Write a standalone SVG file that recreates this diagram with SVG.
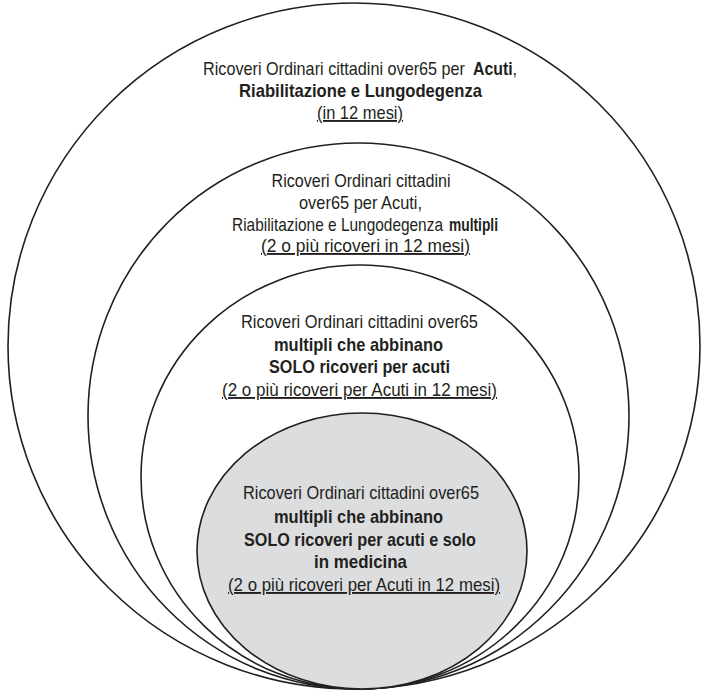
<svg xmlns="http://www.w3.org/2000/svg" width="702" height="691" viewBox="0 0 702 691">
<style>
.ring{fill:#ffffff;stroke:#231f20;stroke-width:1.6}
.core{fill:#dcdddf;stroke:#231f20;stroke-width:1.6}
text{font-family:"Liberation Sans",Arial,sans-serif;font-size:19px;fill:#231f20;text-anchor:middle}
text.s{text-anchor:start}
.b{font-weight:bold}
.u{text-decoration:underline}
</style>
<rect width="702" height="691" fill="#ffffff"/>
<g id="n1">
<ellipse class="ring" cx="354" cy="346" rx="346" ry="343"/>
<text class="s" x="203" y="75" textLength="262" lengthAdjust="spacingAndGlyphs">Ricoveri Ordinari cittadini over65 per</text>
<text class="s" x="473" y="75" textLength="44" lengthAdjust="spacingAndGlyphs"><tspan class="b">Acuti</tspan>,</text>
<text class="b" x="360.5" y="97" textLength="243" lengthAdjust="spacingAndGlyphs">Riabilitazione e Lungodegenza</text>
<text class="u" x="360" y="119" textLength="86" lengthAdjust="spacingAndGlyphs">(in 12 mesi)</text>
</g>
<g id="n2">
<ellipse class="ring" cx="358.5" cy="416" rx="270.5" ry="273"/>
<text x="361" y="187" textLength="179" lengthAdjust="spacingAndGlyphs">Ricoveri Ordinari cittadini</text>
<text x="360.5" y="209" textLength="123" lengthAdjust="spacingAndGlyphs">over65 per Acuti,</text>
<text class="s" x="232" y="231" textLength="211" lengthAdjust="spacingAndGlyphs">Riabilitazione e Lungodegenza</text>
<text class="s b" x="449" y="231" textLength="49" lengthAdjust="spacingAndGlyphs">multipli</text>
<text class="u" x="365.5" y="252" textLength="209" lengthAdjust="spacingAndGlyphs">(2 o più ricoveri in 12 mesi)</text>
</g>
<g id="n3">
<ellipse class="ring" cx="360" cy="477" rx="219" ry="212"/>
<text x="359.5" y="328" textLength="237" lengthAdjust="spacingAndGlyphs">Ricoveri Ordinari cittadini over65</text>
<text class="b" x="358.5" y="351" textLength="169" lengthAdjust="spacingAndGlyphs">multipli che abbinano</text>
<text class="b" x="359.5" y="373" textLength="181" lengthAdjust="spacingAndGlyphs">SOLO ricoveri per acuti</text>
<text class="u" x="359.5" y="396" textLength="275" lengthAdjust="spacingAndGlyphs">(2 o più ricoveri per Acuti in 12 mesi)</text>
</g>
<g id="n4">
<ellipse class="core" cx="362" cy="551" rx="165" ry="138"/>
<text x="361" y="499" textLength="236" lengthAdjust="spacingAndGlyphs">Ricoveri Ordinari cittadini over65</text>
<text class="b" x="358.5" y="523" textLength="169" lengthAdjust="spacingAndGlyphs">multipli che abbinano</text>
<text class="b" x="360" y="546" textLength="232" lengthAdjust="spacingAndGlyphs">SOLO ricoveri per acuti e solo</text>
<text class="b" x="360.5" y="568" textLength="93" lengthAdjust="spacingAndGlyphs">in medicina</text>
<text class="u" x="364" y="591" textLength="272" lengthAdjust="spacingAndGlyphs">(2 o più ricoveri per Acuti in 12 mesi)</text>
</g>
<g id="connectors"></g>
</svg>
